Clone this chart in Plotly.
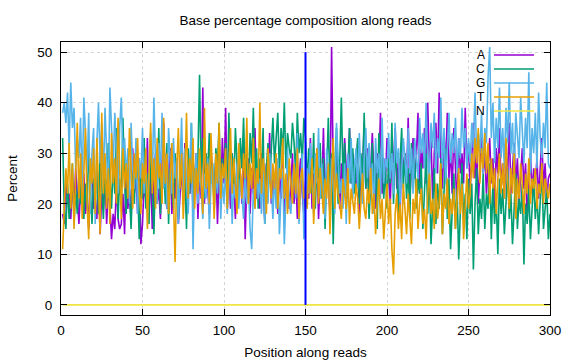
import plotly.graph_objects as go

positions = list(range(1, 301))

A = [18, 16, 25, 20, 22, 17, 24, 19, 27, 21,
     16, 23, 20, 26, 18, 22, 15, 24, 28, 19,
     21, 17, 25, 14, 22, 19, 26, 16, 23, 20,
     13, 18, 15, 24, 17, 15, 16, 22, 14, 27,
     19, 23, 17, 31, 22, 26, 18, 29, 12, 16,
     24, 21, 33, 18, 27, 15, 25, 30, 20, 23,
     17, 28, 36, 22, 19, 26, 31, 18, 24, 21,
     29, 16, 23, 27, 20, 32, 18, 25, 22, 28,
     19, 24, 30, 17, 26, 21, 43, 20, 27, 23,
     18, 31, 25, 22, 29, 16, 26, 21, 33, 24,
     39, 22, 27, 19, 30, 24, 17, 28, 23, 26,
     20, 32, 13, 25, 29, 18, 27, 22, 35, 21,
     26, 19, 30, 23, 17, 28, 24, 34, 20, 25,
     22, 29, 18, 26, 21, 31, 16, 24, 27, 19,
     23, 30, 20, 26, 17, 25, 29, 22, 18, 24,
     28, 21, 33, 19, 26, 23, 31, 17, 25, 22,
     35, 20, 28, 24, 18, 51, 27, 22, 30, 25,
     19, 28, 23, 33, 26, 21, 35, 24, 30, 27,
     22, 32, 18, 29, 26, 36, 23, 31, 20, 28,
     34, 25, 19, 30, 27, 38, 22, 29, 24, 33,
     26, 20, 31, 28, 35, 23, 29, 17, 32, 26,
     30, 24, 37, 21, 28, 33, 25, 29, 38, 22,
     31, 27, 35, 24, 40, 28, 33, 21, 30, 36,
     26, 42, 29, 23, 34, 27, 38, 25, 31, 22,
     35, 28, 19, 33, 26, 30, 24, 39, 27, 32,
     23, 29, 36, 25, 31, 20, 28, 34, 26, 30,
     22, 27, 33, 24, 29, 19, 31, 26, 35, 23,
     28, 21, 30, 25, 36, 22, 27, 32, 24, 29,
     20, 26, 31, 23, 28, 17, 25, 30, 22, 27,
     24, 29, 21, 26, 33, 23, 28, 20, 25, 26]

C = [33, 19, 15, 24, 17, 21, 28, 16, 23, 18,
     26, 20, 29, 17, 24, 19, 31, 22, 16, 25,
     21, 27, 18, 30, 23, 17, 26, 20, 32, 24,
     19, 28, 22, 35, 17, 25, 20, 37, 24, 18,
     29, 22, 15, 26, 20, 31, 24, 13, 28, 21,
     33, 19, 26, 16, 30, 23, 14, 27, 21, 35,
     18, 25, 29, 20, 32, 16, 27, 23, 19, 30,
     24, 17, 28, 33, 21, 26, 15, 31, 22, 36,
     20, 27, 24, 29, 45.5, 25, 33, 21, 30, 26,
     34, 24, 28, 19, 31, 27, 36, 22, 29, 25,
     32, 20, 38, 26, 30, 23, 35, 28, 21, 33,
     27, 37, 24, 30, 22, 34, 28, 39, 25, 31,
     19, 29, 26, 35, 16, 27, 32, 24, 30, 37,
     28, 33, 38, 26, 35, 30, 40, 27, 34, 31,
     29, 36, 32, 26, 38, 30, 34, 28, 37, 33,
     24, 31, 27, 22, 34, 19, 28, 25, 32, 21,
     29, 15, 26, 37, 23, 30, 12, 27, 35, 20,
     28, 41, 25, 32, 19, 29, 35, 24, 31, 22,
     27, 33, 20, 30, 25, 38, 23, 29, 17, 26,
     32, 22, 28, 15, 34, 25, 30, 21, 27, 19,
     29, 24, 36, 20, 31, 26, 18, 28, 35, 23,
     30, 21, 27, 17, 32, 24, 29, 19, 25, 22,
     28, 15, 23, 30, 18, 26, 12, 21, 27, 16,
     24, 19, 29, 14, 22, 31, 17, 25, 11, 20,
     26, 15, 23, 9, 19, 28, 16, 22, 13, 25,
     18, 24, 7, 20, 27, 14, 21, 17, 26, 15,
     22, 19, 28, 13, 24, 16, 21, 10, 25, 18,
     23, 14, 20, 27, 17, 22, 12, 19, 26, 15,
     21, 18, 24, 8, 20, 16, 23, 13, 19, 25,
     17, 22, 14, 20, 27, 15, 19, 23, 13, 18]

G = [38, 40, 36, 42, 31, 44, 35, 39, 27, 33,
     29, 37, 22, 41, 34, 26, 38, 18, 30, 35,
     16, 32, 40, 28, 36, 24, 39, 31, 21, 43,
     34, 27, 38, 30, 22, 35, 41, 29, 33, 25,
     31, 20, 36, 27, 23, 33, 18, 29, 25, 35,
     22, 30, 17, 27, 34, 24, 41, 28, 20, 32,
     26, 38, 23, 30, 19, 35, 27, 22, 33, 25,
     29, 16, 26, 37, 21, 31, 24, 18, 28, 36,
     11, 25, 30, 20, 27, 23, 17, 26, 21, 29,
     15, 24, 28, 19, 26, 22, 30, 17, 25, 20,
     27, 18, 23, 29, 16, 24, 21, 28, 19, 25,
     22, 17, 26, 20, 24, 15, 11, 23, 19, 27,
     21, 25, 18, 28, 16, 23, 20, 30, 24, 17,
     26, 19, 29, 14, 22, 27, 12, 24, 31, 20,
     18, 25, 28, 21, 34, 16, 23, 30, 13, 19,
     27, 22, 32, 25, 18, 30, 24, 35, 21, 28,
     23, 17, 31, 26, 20, 29, 24, 18, 36, 27,
     22, 25, 19, 28, 16, 30, 24, 33, 21, 27,
     31, 23, 34, 26, 20, 29, 35, 25, 32, 22,
     28, 18, 33, 26, 30, 21, 37, 24, 29, 27,
     34, 25, 30, 22, 36, 28, 31, 20, 27, 33,
     29, 24, 35, 26, 31, 22, 33, 28, 25, 37,
     30, 34, 27, 40, 29, 25, 36, 31, 38, 26,
     33, 29, 41, 27, 35, 24, 32, 38, 28, 34,
     30, 37, 26, 33, 29, 39, 31, 35, 27, 33,
     28, 36, 31, 42, 29, 34, 30, 38, 26, 35,
     32, 45, 51, 33, 40, 28, 37, 31, 43, 29,
     35, 27, 39, 32, 44, 30, 36, 25, 38, 33,
     29, 41, 34, 28, 37, 31, 46, 26, 35, 30,
     38, 27, 42, 33, 29, 36, 31, 44, 28, 27]

T = [11, 18, 27, 22, 32, 19, 28, 15, 25, 36,
     21, 30, 17, 26, 35, 20, 13, 29, 24, 31,
     18, 33, 25, 14, 38, 22, 30, 19, 27, 16,
     34, 24, 29, 20, 37, 26, 17, 31, 23, 28,
     21, 35, 27, 19, 30, 25, 33, 22, 18, 28,
     24, 31, 15, 27, 36, 22, 29, 19, 33, 25,
     28, 20, 37, 24, 30, 18, 26, 32, 21, 8.5,
     27, 35, 23, 30, 17, 25, 38, 21, 29, 24,
     33, 19, 27, 22, 31, 25, 18, 39, 23, 28,
     20, 34, 26, 17, 30, 24, 36, 21, 28, 25,
     31, 19, 27, 35, 22, 29, 24, 18, 32, 26,
     21, 30, 25, 37, 20, 28, 23, 33, 19, 27,
     24, 40, 22, 29, 26, 18, 31, 25, 21, 28,
     23, 30, 19, 27, 25, 33, 21, 26, 18, 29,
     24, 20, 28, 22, 31, 17, 25, 27, 21, 23,
     19, 26, 22, 29, 16, 24, 31, 20, 27, 23,
     18, 25, 21, 28, 14, 24, 33, 19, 26, 22,
     20, 17, 25, 22, 19, 27, 16, 23, 20, 18,
     24, 21, 15, 22, 26, 19, 17, 23, 20, 27,
     18, 22, 14, 20, 25, 17, 21, 13, 19, 24,
     16, 21, 11, 6, 18, 22, 15, 20, 13, 24,
     19, 14, 22, 17, 12, 21, 18, 25, 15, 20,
     23, 16, 19, 13, 22, 26, 18, 21, 15, 24,
     17, 20, 28, 14, 22, 19, 25, 16, 21, 18,
     23, 15, 20, 27, 18, 24, 13, 21, 26, 19,
     22, 30, 25, 33, 28, 35, 24, 31, 27, 34,
     26, 32, 20, 29, 23, 27, 18, 25, 30, 22,
     28, 21, 33, 24, 19, 27, 22, 30, 17, 25,
     21, 28, 24, 18, 26, 22, 29, 20, 25, 23,
     27, 19, 24, 22, 28, 20, 25, 23, 21, 24]

N = [0] * 300

marker_x = [150, 150]
marker_y = [0, 50]

series_names = ["A", "C", "G", "T", "N"]
series_values = [A, C, G, T, N]
series_colors = ["#9400d3", "#009e73", "#56b4e9", "#e69f00", "#f0e442"]

x_ticks = [0, 50, 100, 150, 200, 250, 300]
y_ticks = [0, 10, 20, 30, 40, 50]

FONT = "Liberation Sans, Arial, sans-serif"
FS = 13.5

fig = go.Figure()
for name, vals, col in zip(series_names, series_values, series_colors):
    fig.add_trace(go.Scatter(x=positions, y=vals, mode="lines", name=name,
                             line=dict(color=col, width=1.6), showlegend=False))

fig.add_trace(go.Scatter(x=marker_x, y=marker_y, mode="lines", showlegend=False,
                         line=dict(color="#0000ff", width=2)))

# legend drawn gnuplot-style: label then line sample
L, R, Tp, B = 61, 550, 42, 315
W, H = R - L, B - Tp
rows = [55, 69, 83, 97, 111]
for name, col, py in zip(series_names, series_colors, rows):
    yp = (B - py) / H
    fig.add_shape(type="line", xref="paper", yref="paper",
                  x0=(494 - L) / W, x1=(534 - L) / W, y0=yp, y1=yp,
                  line=dict(color=col, width=1.6))
    fig.add_annotation(xref="paper", yref="paper", x=(487 - L) / W, y=yp,
                       text=name, showarrow=False, xanchor="right", yanchor="middle",
                       font=dict(family=FONT, size=12, color="black"))

axis_common = dict(showline=True, linecolor="black", linewidth=1, mirror="ticks",
                   ticks="inside", ticklen=6, tickcolor="black", automargin=False,
                   showgrid=True, gridcolor="#d4d4d4", griddash="dot", gridwidth=1,
                   zeroline=False, tickfont=dict(family=FONT, size=FS, color="black"))

fig.update_layout(
    width=576, height=360,
    margin=dict(l=L, r=576 - R, t=Tp, b=360 - B),
    paper_bgcolor="white", plot_bgcolor="white",
    title=dict(text="Base percentage composition along reads", x=(L + R) / 2 / 576,
               xanchor="center", y=1 - 20 / 360, yanchor="middle",
               font=dict(family=FONT, size=FS, color="black")),
    xaxis=dict(range=[0, 300], tickvals=x_ticks, ticklabelstandoff=3,
               title=dict(text="Position along reads", standoff=10,
                          font=dict(family=FONT, size=FS, color="black")),
               **axis_common),
    yaxis=dict(range=[-2, 52], tickvals=y_ticks, ticklabelstandoff=5,
               title=dict(text="Percent", standoff=16,
                          font=dict(family=FONT, size=FS, color="black")),
               **axis_common),
    showlegend=False,
)

fig.write_html("out.html", config={"displayModeBar": False},
               post_script="document.body.style.margin='0';")
